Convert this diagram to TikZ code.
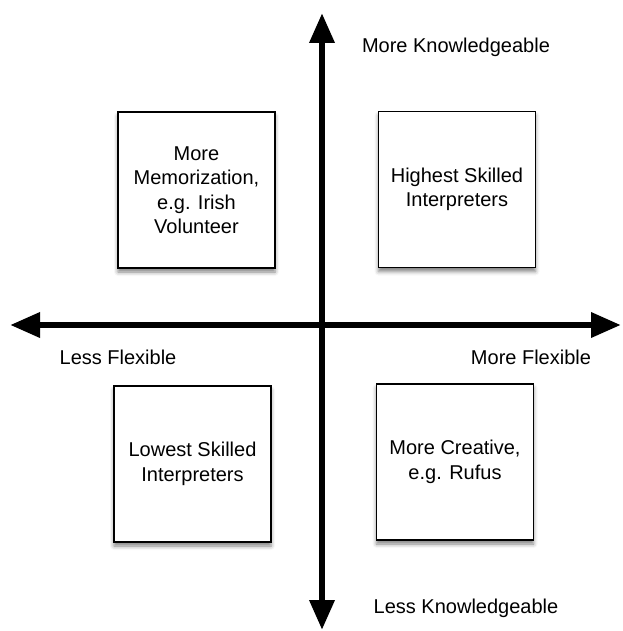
\documentclass[tikz,border=0pt]{standalone}
\usepackage{fontspec}
\setmainfont{Liberation Sans}
\usetikzlibrary{arrows.meta,shadows.blur}

\begin{document}
\begin{tikzpicture}[x=1pt,y=-1pt,
        quad/.style={draw,fill=white,line width=1.3pt,minimum width=157pt,minimum height=156pt,
                align=center,font=\fontsize{20}{24.5}\selectfont,
                blur shadow={shadow xshift=0pt,shadow yshift=-4pt,shadow blur radius=4pt,shadow opacity=50}},
        axislabel/.style={font=\fontsize{20}{24}\selectfont}
        ]
        \useasboundingbox (0,0) rectangle (622,631);

        \coordinate (top) at (322,13);
        \coordinate (bottom) at (322,630);
        \coordinate (left) at (10,325);
        \coordinate (right) at (621,325);

        \draw[line width=6.5pt,{Triangle[length=30pt,width=24pt]}-{Triangle[length=30pt,width=24pt]}] (bottom) to (top);
        \draw[line width=6.5pt,{Triangle[length=30pt,width=24pt]}-{Triangle[length=30pt,width=24pt]}] (left) to (right);

        \node[quad] (memo) at (196.5,190) {More\\Memorization,\\e.g. Irish\\Volunteer};
        \node[quad] (highest) at (457,189.5) {Highest Skilled\\Interpreters};
        \node[quad] (lowest) at (192.5,464) {Lowest Skilled\\Interpreters};
        \node[quad] (creative) at (455,462) {More Creative,\\e.g. Rufus};

        \node[axislabel] (moreknow) at (456,47) {More Knowledgeable};
        \node[axislabel] (lessknow) at (466,608) {Less Knowledgeable};
        \node[axislabel] (lessflex) at (118,357) {Less Flexible};
        \node[axislabel] (moreflex) at (531,357) {More Flexible};

    \end{tikzpicture}
\end{document}
